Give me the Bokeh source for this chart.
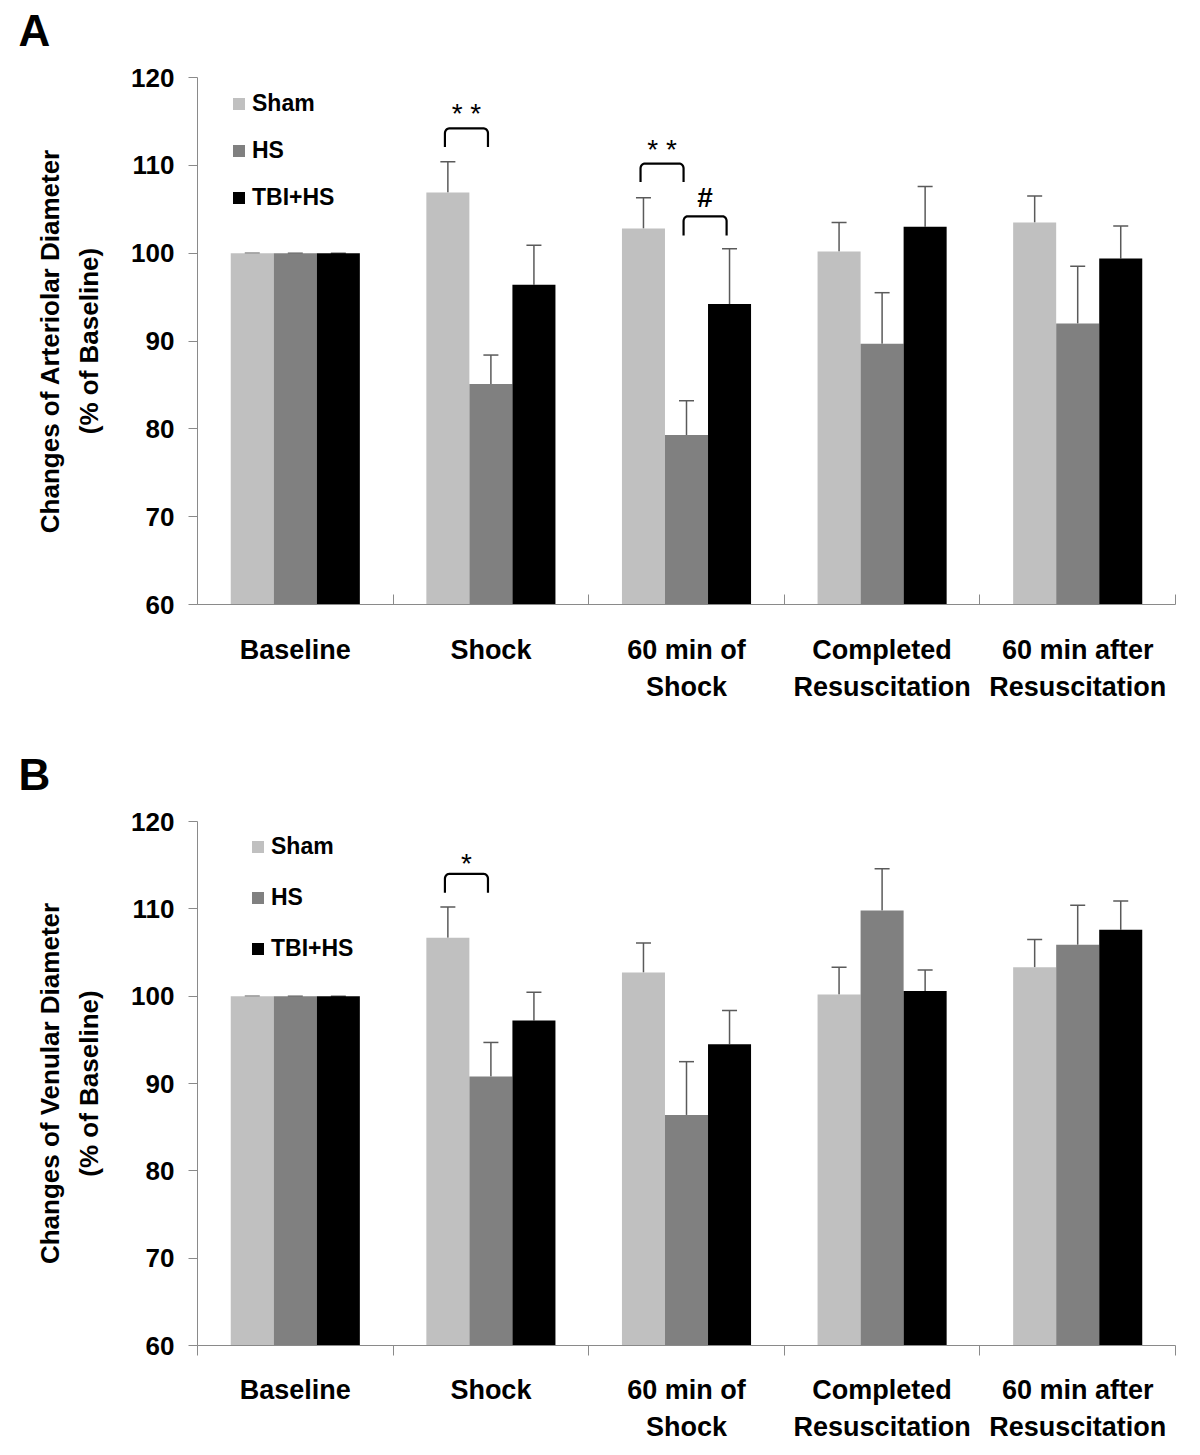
import numpy as np
from bokeh.plotting import figure
from bokeh.models import (Range1d, FixedTicker, LinearAxis, Legend, LegendItem, Label,
                          ColumnDataSource, Whisker, TeeHead)
from bokeh.layouts import column
from bokeh.embed import file_html
from bokeh.resources import INLINE
from bokeh.core.properties import value

# ---------------- data ----------------
categories = ["Baseline", "Shock", "60 min of\nShock", "Completed\nResuscitation",
              "60 min after\nResuscitation"]
series = ["Sham", "HS", "TBI+HS"]
y_ticks = [60, 70, 80, 90, 100, 110, 120]

# Panel A: arteriolar diameter (% of baseline)
sham_A = [100, 106.9, 102.8, 100.2, 103.5]
sham_A_err = [0, 3.5, 3.5, 3.3, 3.0]
hs_A = [100, 85.1, 79.3, 89.7, 92.0]
hs_A_err = [0, 3.3, 3.9, 5.8, 6.5]
tbi_A = [100, 96.4, 94.2, 103.0, 99.4]
tbi_A_err = [0, 4.5, 6.3, 4.6, 3.7]

# Panel B: venular diameter (% of baseline)
sham_B = [100, 106.7, 102.7, 100.2, 103.3]
sham_B_err = [0, 3.5, 3.4, 3.1, 3.2]
hs_B = [100, 90.8, 86.4, 109.8, 105.9]
hs_B_err = [0, 3.9, 6.1, 4.8, 4.5]
tbi_B = [100, 97.2, 94.5, 100.6, 107.6]
tbi_B_err = [0, 3.25, 3.85, 2.4, 3.3]

# significance annotations: (category index, series i, series j, bracket top, leg bottom, text y, text)
sig_A = [(1, 0, 1, 114.2, 112.1, 115.9, "**"),
         (2, 0, 1, 110.2, 108.1, 111.8, "**"),
         (2, 1, 2, 104.2, 102.0, 106.3, "#")]
sig_B = [(1, 0, 1, 114.0, 111.85, 115.2, "*")]

colors = ["#c0c0c0", "#808080", "#000000"]
BAR_W = 0.22
offsets = [-BAR_W, 0.0, BAR_W]
FONT = "Liberation Sans"


def make_panel(letter, ylabel, vals, errs, sigs, frame_h, top, bottom, tick_in,
               legend_loc, legend_spacing, label_standoff):
    p = figure(frame_width=978, frame_height=frame_h, x_range=Range1d(0, len(categories)),
               y_range=Range1d(60, 120), output_backend="svg", toolbar_location=None,
               x_axis_type=None, min_border_left=197, min_border_right=17,
               min_border_top=top, min_border_bottom=bottom)
    p.outline_line_color = None
    p.xgrid.visible = False
    p.ygrid.visible = False
    p.background_fill_color = "white"

    centers = np.arange(len(categories)) + 0.5
    renderers = []
    for k in range(3):
        xs = centers + offsets[k]
        src = ColumnDataSource(dict(x=xs, top=vals[k], up=np.array(vals[k]) + np.array(errs[k])))
        r = p.vbar(x="x", top="top", bottom=60, width=BAR_W, source=src,
                   fill_color=colors[k], line_color=None)
        renderers.append(r)
        w = Whisker(base="x", lower="top", upper="up", source=src, dimension="height",
                    line_color="#5a5a5a", line_width=1.5,
                    upper_head=TeeHead(size=15, line_color="#5a5a5a", line_width=1.5),
                    lower_head=None)
        p.add_layout(w)

    # significance brackets
    for (ci, si, sj, yt, yb, ty, txt) in sigs:
        x1 = ci + 0.5 + offsets[si] - 0.015
        x2 = ci + 0.5 + offsets[sj] - 0.015
        rx, ry = 0.022, 0.55
        th = np.linspace(np.pi, np.pi / 2, 8)
        left_arc_x = x1 + rx + rx * np.cos(th)
        left_arc_y = yt - ry + ry * np.sin(th)
        th2 = np.linspace(np.pi / 2, 0, 8)
        right_arc_x = x2 - rx + rx * np.cos(th2)
        right_arc_y = yt - ry + ry * np.sin(th2)
        bx = np.concatenate([[x1], left_arc_x, right_arc_x, [x2]])
        by = np.concatenate([[yb], left_arc_y, right_arc_y, [yb]])
        p.line(bx, by, line_color="black", line_width=2.2)
        label = " ".join(txt) if txt != "#" else txt
        p.text(x=[(x1 + x2) / 2], y=[ty], text=[label], text_align="center",
               text_baseline="middle", text_font=value(FONT),
               text_font_size="28px",
               text_font_style="normal" if txt != "#" else "bold", text_color="black")

    # y axis
    yax = p.yaxis[0]
    yax.ticker = FixedTicker(ticks=y_ticks)
    yax.axis_line_color = "#8a8a8a"
    yax.major_tick_line_color = "#8a8a8a"
    yax.major_tick_out = 9
    yax.major_tick_in = 0
    yax.minor_tick_line_color = None
    yax.major_label_text_font = FONT
    yax.major_label_text_font_style = "bold"
    yax.major_label_text_font_size = "26px"
    yax.major_label_text_color = "black"
    yax.major_label_standoff = 14
    yax.axis_label = ylabel
    yax.axis_label_text_font = FONT
    yax.axis_label_text_font_style = "bold"
    yax.axis_label_text_font_size = "26px"
    yax.axis_label_text_color = "black"
    yax.axis_label_text_line_height = 1.3
    yax.axis_label_standoff = 24

    # panel letter in its own side panel above the plot
    p.add_layout(Label(x=-179, y=47, x_units="screen", y_units="screen",
                       text=letter, text_align="left", text_baseline="alphabetic",
                       text_font=FONT, text_font_style="bold", text_font_size="44px",
                       text_color="black"), "above")

    # x axis: labels at centres, small ticks at category boundaries
    bounds = list(np.arange(len(categories) + 1).astype(float))
    xax = LinearAxis(ticker=FixedTicker(ticks=list(centers), minor_ticks=bounds))
    xax.major_label_overrides = {float(c): lab for c, lab in zip(centers, categories)}
    xax.axis_line_color = "#8a8a8a"
    xax.major_tick_line_color = None
    xax.minor_tick_line_color = "#8a8a8a"
    if tick_in:
        xax.minor_tick_in = 10
        xax.minor_tick_out = 0
    else:
        xax.minor_tick_in = 0
        xax.minor_tick_out = 10
    xax.major_label_text_font = FONT
    xax.major_label_text_font_style = "bold"
    xax.major_label_text_font_size = "27px"
    xax.major_label_text_color = "black"
    xax.major_label_text_line_height = 1.25
    xax.major_label_standoff = label_standoff
    p.add_layout(xax, "below")

    items = [LegendItem(label=series[k], renderers=[renderers[k]]) for k in range(3)]
    leg = Legend(items=items, location=legend_loc, orientation="vertical",
                 glyph_width=15, glyph_height=15, label_height=25,
                 spacing=legend_spacing, padding=0, margin=0, label_standoff=6,
                 border_line_color=None, background_fill_alpha=0,
                 label_text_font=FONT, label_text_font_style="bold",
                 label_text_font_size="23px", label_text_color="black")
    p.add_layout(leg)
    return p


pA = make_panel("A", "Changes of Arteriolar Diameter\n(% of Baseline)",
                [sham_A, hs_A, tbi_A], [sham_A_err, hs_A_err, tbi_A_err], sig_A,
                527, 77, 138, True, (34, 393.5), 20, 24)
pB = make_panel("B", "Changes of Venular Diameter\n(% of Baseline)",
                [sham_B, hs_B, tbi_B], [sham_B_err, hs_B_err, tbi_B_err], sig_B,
                524, 79, 105, False, (53, 383.5), 24, 19)

layout = column(pA, pB, spacing=0)
open("out.html", "w").write(file_html(layout, INLINE))
